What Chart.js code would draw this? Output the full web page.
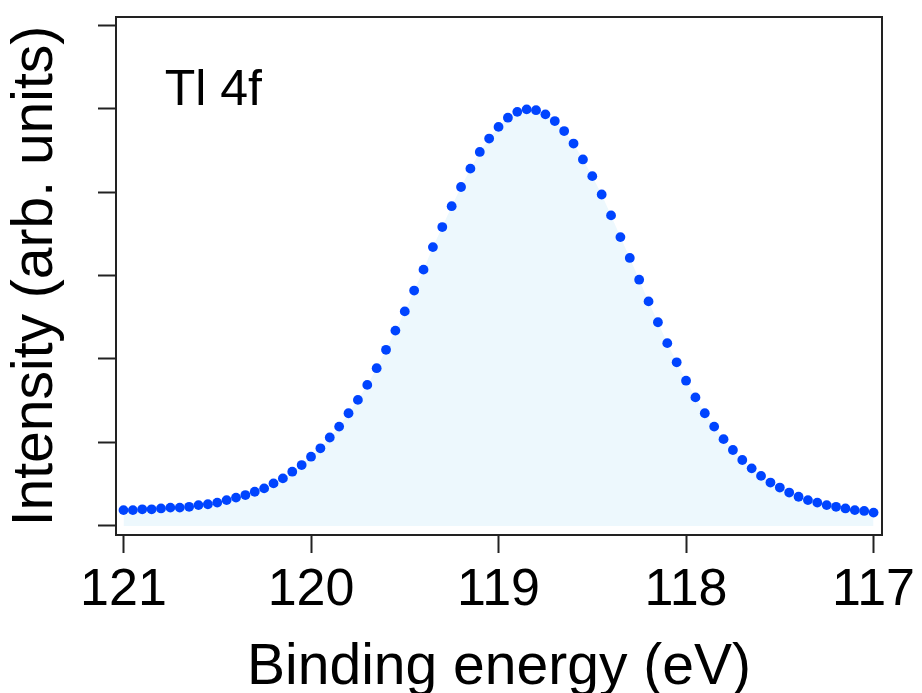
<!DOCTYPE html>
<html>
<head>
<meta charset="utf-8">
<script src="https://cdn.jsdelivr.net/npm/chart.js@4"></script>
<style>
  body { margin: 0; background: #fff; }
</style>
</head>
<body>
<canvas id="xps" width="922" height="693"></canvas>
<script>
// binding energy (eV), 0.05 eV steps
var energies = [121.00, 120.95, 120.90, 120.85, 120.80, 120.75, 120.70, 120.65, 120.60, 120.55,
                120.50, 120.45, 120.40, 120.35, 120.30, 120.25, 120.20, 120.15, 120.10, 120.05,
                120.00, 119.95, 119.90, 119.85, 119.80, 119.75, 119.70, 119.65, 119.60, 119.55,
                119.50, 119.45, 119.40, 119.35, 119.30, 119.25, 119.20, 119.15, 119.10, 119.05,
                119.00, 118.95, 118.90, 118.85, 118.80, 118.75, 118.70, 118.65, 118.60, 118.55,
                118.50, 118.45, 118.40, 118.35, 118.30, 118.25, 118.20, 118.15, 118.10, 118.05,
                118.00, 117.95, 117.90, 117.85, 117.80, 117.75, 117.70, 117.65, 117.60, 117.55,
                117.50, 117.45, 117.40, 117.35, 117.30, 117.25, 117.20, 117.15, 117.10, 117.05,
                117.00];

// intensity (arb. units)
var intensity = [0.19, 0.19, 0.20, 0.20, 0.21, 0.22, 0.22, 0.23, 0.25, 0.26,
                 0.28, 0.31, 0.34, 0.37, 0.41, 0.45, 0.51, 0.57, 0.65, 0.73,
                 0.83, 0.93, 1.06, 1.19, 1.35, 1.51, 1.69, 1.89, 2.11, 2.34,
                 2.57, 2.82, 3.07, 3.34, 3.58, 3.83, 4.06, 4.28, 4.48, 4.64,
                 4.78, 4.89, 4.96, 4.99, 4.98, 4.93, 4.85, 4.73, 4.58, 4.39,
                 4.19, 3.97, 3.72, 3.46, 3.21, 2.95, 2.69, 2.44, 2.19, 1.96,
                 1.74, 1.54, 1.35, 1.19, 1.04, 0.91, 0.79, 0.69, 0.60, 0.52,
                 0.46, 0.40, 0.35, 0.31, 0.28, 0.25, 0.23, 0.21, 0.19, 0.18,
                 0.16];

var xTicks = [121, 120, 119, 118, 117];
var yTicks = [0, 1, 2, 3, 4, 5, 6];

var FONT = "'Liberation Sans', Arial, sans-serif";
var INK = '#222';

var points = energies.map(function (e, i) { return { x: e, y: intensity[i] }; });

// "Tl 4f" label inside the plot
var labelPlugin = {
    id: 'peakLabel',
    afterDraw: function (chart) {
        var c = chart.ctx;
        var x = chart.scales.x.getPixelForValue(120.78);
        var y = chart.scales.y.getPixelForValue(5.04);
        c.save();
        c.font = '50px ' + FONT;
        c.fillStyle = '#000';
        c.textBaseline = 'alphabetic';
        c.fillText('Tl 4f', x, y);
        c.restore();
    }
};

function frameAxis(pos, size) {
    return {
        type: 'linear',
        position: pos,
        min: 0, max: 1,
        ticks: { display: false },
        grid: { drawOnChartArea: false, drawTicks: false },
        border: { display: true, color: INK, width: 2 },
        afterFit: function (s) { if (pos === 'top') s.height = size; else s.width = size; }
    };
}

var ctx = document.getElementById('xps').getContext('2d');
var chart = new Chart(ctx, {
    type: 'line',
    data: {
        datasets: [{
            data: points,
            showLine: true,
            borderWidth: 0,
            borderColor: 'rgba(0,0,0,0)',
            backgroundColor: '#edf8fd',
            fill: 'origin',
            pointRadius: 4.9,
            pointBorderWidth: 0,
            pointBackgroundColor: '#0044ff',
            tension: 0
        }]
    },
    options: {
        responsive: false,
        animation: false,
        layout: { padding: 0 },
        plugins: { legend: { display: false }, tooltip: { enabled: false } },
        scales: {
            x: {
                type: 'linear',
                reverse: true,
                min: 116.955,
                max: 121.04,
                afterBuildTicks: function (s) { s.ticks = xTicks.map(function (v) { return { value: v }; }); },
                afterFit: function (s) { s.height = 158; s.paddingLeft = 0; s.paddingRight = 0; },
                ticks: {
                    autoSkip: false, maxRotation: 0, minRotation: 0,
                    padding: 12,
                    color: '#000',
                    font: { family: FONT, size: 52, lineHeight: 1 },
                    callback: function (v) { return String(v); }
                },
                grid: { drawOnChartArea: false, drawTicks: true, tickLength: 18, tickColor: INK, tickWidth: 2 },
                border: { display: true, color: INK, width: 2 },
                title: {
                    display: true, text: 'Binding energy (eV)', color: '#000',
                    font: { family: FONT, size: 57, lineHeight: 1 },
                    padding: { top: 23, bottom: -4 }
                }
            },
            y: {
                type: 'linear',
                min: -0.108,
                max: 6.096,
                afterBuildTicks: function (s) { s.ticks = yTicks.map(function (v) { return { value: v }; }); },
                afterFit: function (s) { s.width = 116; },
                ticks: { display: false },
                grid: { drawOnChartArea: false, drawTicks: true, tickLength: 18, tickColor: INK, tickWidth: 2 },
                border: { display: true, color: INK, width: 2 },
                title: {
                    display: true, text: 'Intensity (arb. units)', color: '#000',
                    font: { family: FONT, size: 57, lineHeight: 1 },
                    padding: { top: 7.5, bottom: 33.5 }
                }
            },
            x2: frameAxis('top', 17),
            y2: frameAxis('right', 40)
        }
    },
    plugins: [labelPlugin]
});
</script>
</body>
</html>
